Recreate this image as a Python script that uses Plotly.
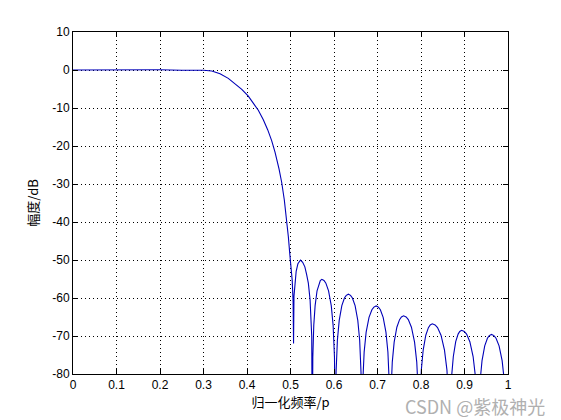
import plotly.graph_objects as go

# ---- data ----
pass_f = [0.0, 0.05, 0.10, 0.15, 0.20, 0.25, 0.28, 0.30]
pass_db = [0.0, 0.05, -0.05, 0.05, 0.05, -0.05, 0.0, -0.05]

trans_f = [0.319, 0.338, 0.357, 0.372, 0.388, 0.403, 0.4145, 0.426, 0.4375, 0.4475,
           0.4567, 0.4644, 0.4736, 0.4798, 0.4858, 0.4913, 0.495, 0.4982, 0.5005,
           0.504, 0.506, 0.507]
trans_db = [-0.26, -0.97, -2.2, -3.5, -5.1, -6.9, -8.6, -10.6, -13.1, -15.7,
            -18.6, -21.6, -26.0, -29.6, -34.2, -39.5, -43.8, -48.2, -51.5,
            -55.5, -61.0, -72.0]

lobe1_f = [0.508, 0.510, 0.513, 0.517, 0.523, 0.528, 0.533, 0.537, 0.541, 0.545, 0.5475, 0.5488, 0.550]
lobe1_db = [-59.5, -56.5, -53.0, -51.0, -50.0, -50.6, -51.8, -53.8, -56.1, -60.5, -65.0, -70.0, -100]

lobe2_f = [0.5513, 0.5535, 0.5566, 0.561, 0.5654, 0.5685, 0.572, 0.577, 0.5813, 0.5875, 0.5937, 0.598, 0.6011, 0.603]
lobe2_db = [-75.6, -67.2, -62.0, -58.1, -56.1, -55.4, -55.1, -55.4, -56.1, -58.1, -62.0, -67.2, -75.6, -100]

lobe3_f = [0.6048, 0.6078, 0.612, 0.618, 0.624, 0.6282, 0.633, 0.638, 0.6423, 0.6485, 0.6547, 0.659, 0.6621, 0.664]
lobe3_db = [-79.5, -71.1, -65.9, -62.0, -60.0, -59.3, -59.0, -59.3, -60.0, -62.0, -65.9, -71.1, -79.5, -100]

lobe4_f = [0.666, 0.6693, 0.6739, 0.6805, 0.6871, 0.6917, 0.697, 0.7021, 0.7066, 0.713, 0.7194, 0.7239, 0.7271, 0.729]
lobe4_db = [-82.6, -74.2, -69.0, -65.1, -63.1, -62.4, -62.1, -62.4, -63.1, -65.1, -69.0, -74.2, -82.6, -100]

lobe5_f = [0.7309, 0.734, 0.7383, 0.7445, 0.7507, 0.755, 0.760, 0.7658, 0.7708, 0.778, 0.7852, 0.7902, 0.7938, 0.796]
lobe5_db = [-85.2, -76.8, -71.6, -67.7, -65.7, -65.0, -64.7, -65.0, -65.7, -67.7, -71.6, -76.8, -85.2, -100]

lobe6_f = [0.7978, 0.8008, 0.805, 0.811, 0.817, 0.8212, 0.826, 0.8324, 0.838, 0.846, 0.854, 0.8596, 0.8636, 0.866]
lobe6_db = [-87.3, -78.9, -73.7, -69.8, -67.8, -67.1, -66.8, -67.1, -67.8, -69.8, -73.7, -78.9, -87.3, -100]

lobe7_f = [0.8677, 0.8704, 0.8743, 0.8798, 0.8853, 0.8891, 0.8935, 0.8995, 0.9048, 0.9123, 0.9198, 0.925, 0.9288, 0.931]
lobe7_db = [-89.0, -80.6, -75.4, -71.5, -69.5, -68.8, -68.5, -68.8, -69.5, -71.5, -75.4, -80.6, -89.0, -100]

lobe8_f = [0.9329, 0.936, 0.9403, 0.9465, 0.9527, 0.957, 0.962, 0.9676, 0.9725, 0.9795, 0.9865, 0.9914, 0.9949, 0.997, 1.0]
lobe8_db = [-90.1, -81.7, -76.5, -72.6, -70.6, -69.9, -69.6, -69.9, -70.6, -72.6, -76.5, -81.7, -90.1, -100, -85]

x_ticks = [0, 0.1, 0.2, 0.3, 0.4, 0.5, 0.6, 0.7, 0.8, 0.9, 1.0]
x_ticklabels = ["0", "0.1", "0.2", "0.3", "0.4", "0.5", "0.6", "0.7", "0.8", "0.9", "1"]
y_ticks = [-80, -70, -60, -50, -40, -30, -20, -10, 0, 10]
y_ticklabels = ["-80", "-70", "-60", "-50", "-40", "-30", "-20", "-10", "0", "10"]

x_title = "归一化频率/p"
y_title = "幅度/dB"
watermark = "CSDN @紫极神光"

freq = pass_f + trans_f + lobe1_f + lobe2_f + lobe3_f + lobe4_f + lobe5_f + lobe6_f + lobe7_f + lobe8_f
mag = pass_db + trans_db + lobe1_db + lobe2_db + lobe3_db + lobe4_db + lobe5_db + lobe6_db + lobe7_db + lobe8_db

fig = go.Figure()
fig.add_trace(go.Scatter(x=freq, y=mag, mode="lines",
                         line=dict(color="#0000b8", width=1.1),
                         hoverinfo="skip", showlegend=False))

tick_font = dict(family="Liberation Sans, Arial, sans-serif", size=12, color="black")
cjk = "Noto Sans CJK SC, sans-serif"

axis_common = dict(
    showline=True, linecolor="black", linewidth=1, mirror="ticks",
    ticks="inside", ticklen=5, tickcolor="black", tickwidth=1,
    showgrid=True, gridcolor="black", gridwidth=1, griddash="1px,3px",
    zeroline=False, tickfont=tick_font,
)

fig.update_layout(
    width=561, height=420,
    margin=dict(l=73, r=53, t=32, b=46),
    paper_bgcolor="white", plot_bgcolor="white",
    xaxis=dict(range=[0, 1], tickvals=x_ticks, ticktext=x_ticklabels,
               title=dict(text=x_title, font=dict(family=cjk, size=13, color="black"), standoff=2),
               **axis_common),
    yaxis=dict(range=[-80, 10], tickvals=y_ticks, ticktext=y_ticklabels,
               title=dict(text=y_title, font=dict(family=cjk, size=13, color="black"), standoff=10),
               **axis_common),
    annotations=[dict(text=watermark, xref="paper", yref="paper", x=1.09, y=-0.05,
                      xanchor="right", yanchor="top", showarrow=False,
                      font=dict(family=cjk, size=18, color="#b0b0b0"))],
)

fig.write_html("out.html", config={"displayModeBar": False, "staticPlot": True},
               post_script="document.body.style.margin='0';document.body.style.padding='0';")
